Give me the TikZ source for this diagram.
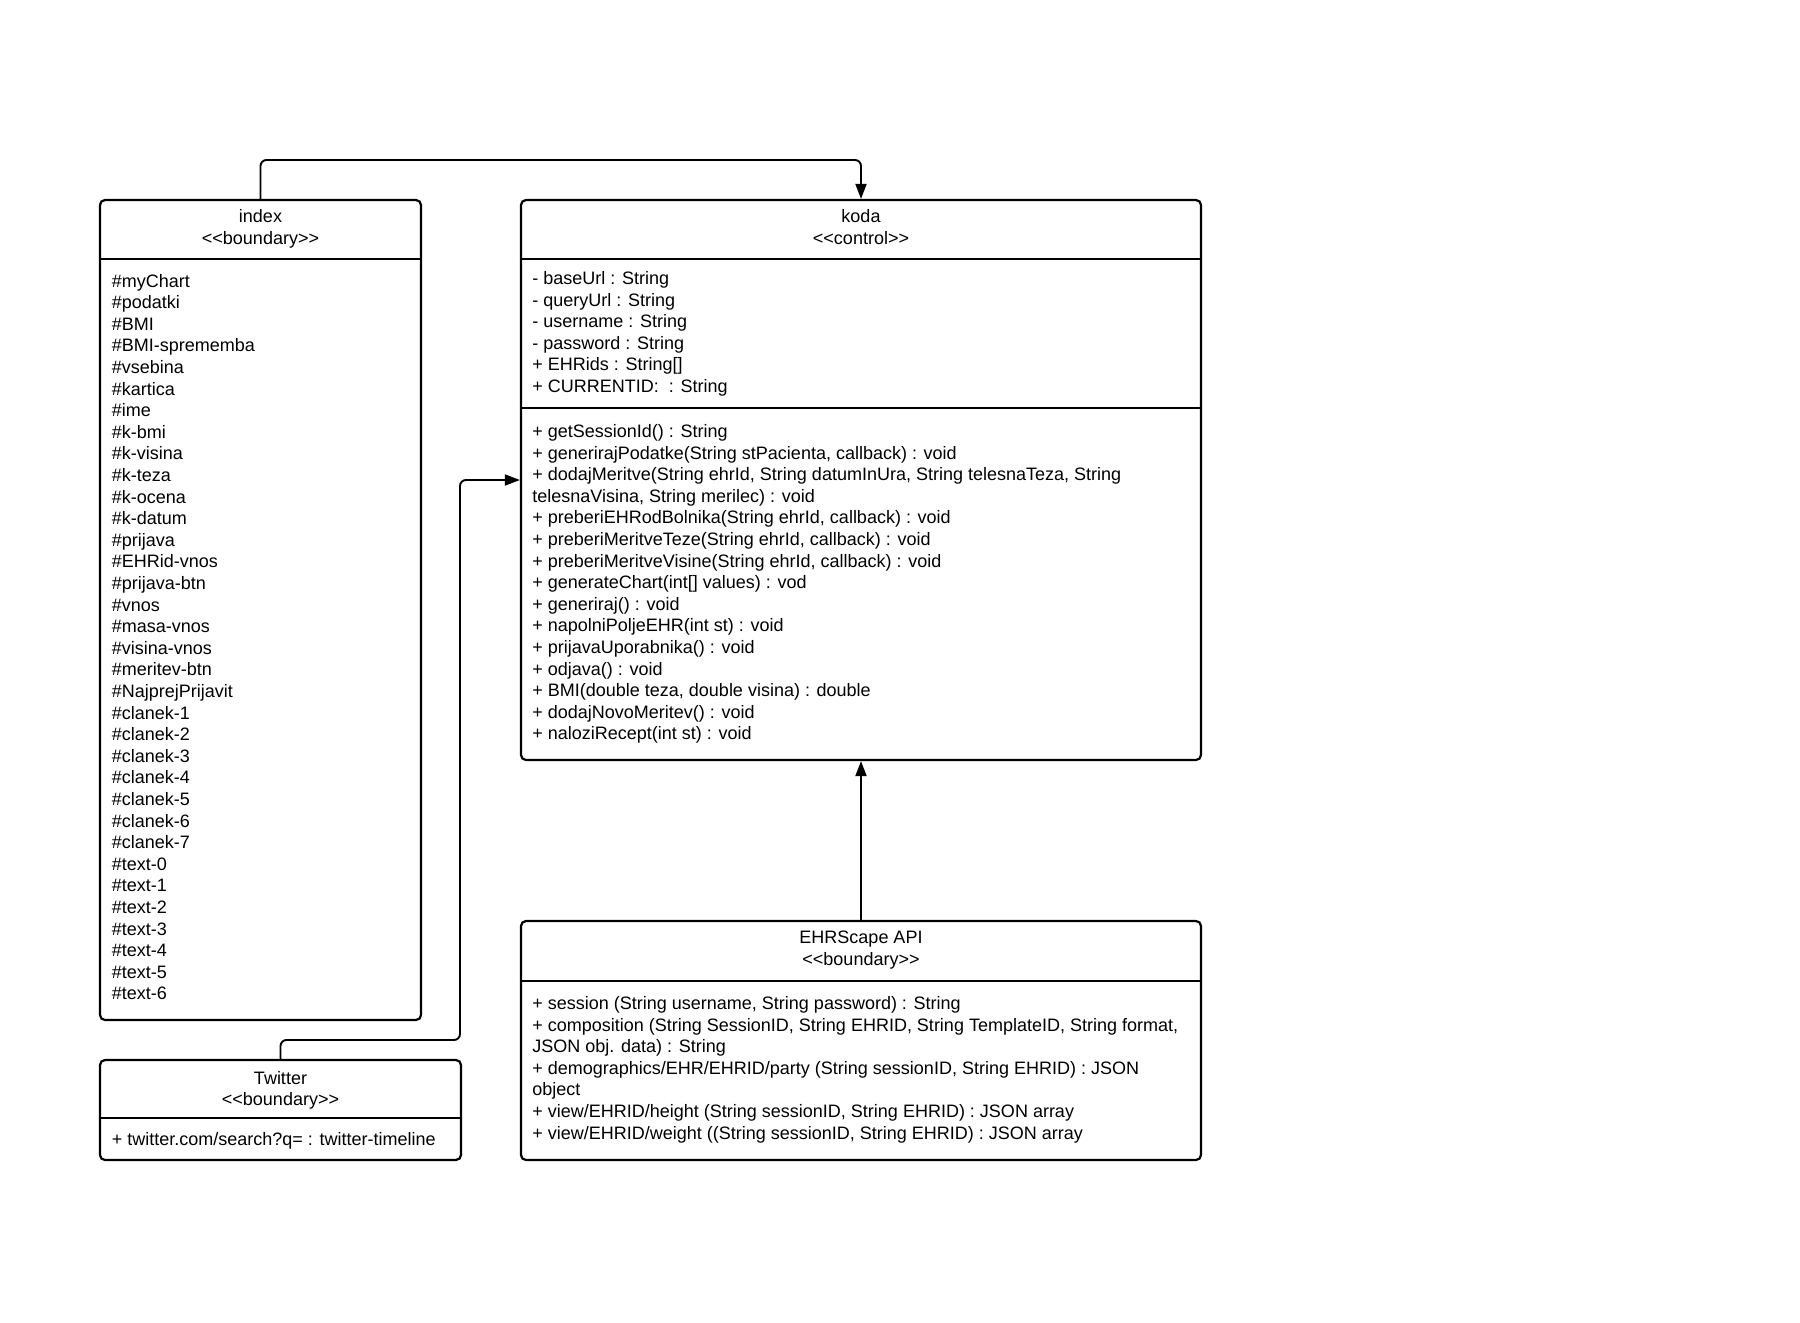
\documentclass[tikz,border=0pt]{standalone}
\usepackage{fontspec}
\newfontfamily\umlfont{Liberation Sans}
\usetikzlibrary{arrows.meta,positioning}
\tikzset{
    %Define standard arrow tip
    >={Triangle[length=7.5pt,width=5.5pt]},
    %Define style for class boxes
    classbox/.style={
           rectangle,
           rounded corners=2.5pt,
           draw=black, line width=1.1pt,
           inner sep=0pt},
    classname/.style={
           anchor=north,
           align=center,
           inner sep=0pt,
           font=\umlfont\fontsize{9pt}{10.8pt}\selectfont},
    members/.style={
           anchor=north west,
           align=left,
           inner sep=0pt,
           font=\umlfont\fontsize{9pt}{10.8pt}\selectfont},
    % Define line styles
    divider/.style={line width=1.1pt},
    pil/.style={
           ->,
           line width=0.95pt,
           rounded corners=3pt}
}

\begin{document}
\begin{tikzpicture}[x=0.5pt,y=-0.5pt]
\useasboundingbox (0,0) rectangle (1800,1323);

 %boxes
\node[classbox, minimum width=160.5pt, minimum height=410pt](index) at (260.5,610){};
\node[classbox, minimum width=340pt, minimum height=280pt](koda) at (861,480){};
\node[classbox, minimum width=340pt, minimum height=119.5pt](ehr) at (861,1040.5){};
\node[classbox, minimum width=180.5pt, minimum height=50pt](twitter) at (280.5,1110){};

 %dividers
\coordinate (indexdiv) at (0,259);
\coordinate (kodadiv) at (0,259);
\coordinate (kodadiv2) at (0,408);
\coordinate (ehrdiv) at (0,981);
\coordinate (twitterdiv) at (0,1118);
\draw[divider] (index.west |- indexdiv) -- (index.east |- indexdiv);
\draw[divider] (koda.west |- kodadiv) -- (koda.east |- kodadiv);
\draw[divider] (koda.west |- kodadiv2) -- (koda.east |- kodadiv2);
\draw[divider] (ehr.west |- ehrdiv) -- (ehr.east |- ehrdiv);
\draw[divider] (twitter.west |- twitterdiv) -- (twitter.east |- twitterdiv);

 %names
\node[classname](indexname) at (260.5,207){\strut index\\<<boundary>>};
\node[classname](kodaname) at (861,207){\strut koda\\<<control>>};
\node[classname](ehrname) at (861,928){\strut EHRScape API\\<<boundary>>};
\node[classname](twittername) at (280.5,1068.5){\strut Twitter\\<<boundary>>};

 %members
\node[members](indexattr) at (111.5,271.5){\strut\#myChart\\\#podatki\\\#BMI\\\#BMI-sprememba\\
  \#vsebina\\\#kartica\\\#ime\\\#k-bmi\\\#k-visina\\\#k-teza\\\#k-ocena\\\#k-datum\\
  \#prijava\\\#EHRid-vnos\\\#prijava-btn\\\#vnos\\\#masa-vnos\\\#visina-vnos\\
  \#meritev-btn\\\#NajprejPrijavit\\\#clanek-1\\\#clanek-2\\\#clanek-3\\\#clanek-4\\
  \#clanek-5\\\#clanek-6\\\#clanek-7\\\#text-0\\\#text-1\\\#text-2\\\#text-3\\
  \#text-4\\\#text-5\\\#text-6};
\node[members](kodaattr) at (532,269){\strut - baseUrl : String\\- queryUrl : String\\
  - username : String\\- password : String\\+ EHRids : String[]\\+ CURRENTID:~ : String};
\node[members](kodaops) at (532,422){\strut + getSessionId() : String\\
  + generirajPodatke(String stPacienta, callback) : void\\
  + dodajMeritve(String ehrId, String datumInUra, String telesnaTeza, String\\
  telesnaVisina, String merilec) : void\\
  + preberiEHRodBolnika(String ehrId, callback) : void\\
  + preberiMeritveTeze(String ehrId, callback) : void\\
  + preberiMeritveVisine(String ehrId, callback) : void\\
  + generateChart(int[] values) : vod\\
  + generiraj() : void\\
  + napolniPoljeEHR(int st) : void\\
  + prijavaUporabnika() : void\\
  + odjava() : void\\
  + BMI(double teza, double visina) : double\\
  + dodajNovoMeritev() : void\\
  + naloziRecept(int st) : void};
\node[members](ehrops) at (532,994){\strut + session (String username, String password) : String\\
  + composition (String SessionID, String EHRID, String TemplateID, String format,\\
  JSON obj. data) : String\\
  + demographics/EHR/EHRID/party (String sessionID, String EHRID) : JSON\\
  object\\
  + view/EHRID/height (String sessionID, String EHRID) : JSON array\\
  + view/EHRID/weight ((String sessionID, String EHRID) : JSON array};
\node[members](twitterattr) at (111.5,1129.5){\strut + twitter.com/search?q= : twitter-timeline};

 %connectors
\coordinate (topbend) at (560,160);
\coordinate (twbend) at (460,1040);
\draw[pil] (index.north) |- (topbend) -| (koda.north);
\draw[pil] (twitter.north) |- (twbend) |- (koda.west);
\draw[pil] (ehr.north) -- (koda.south);

\end{tikzpicture}
\end{document}
